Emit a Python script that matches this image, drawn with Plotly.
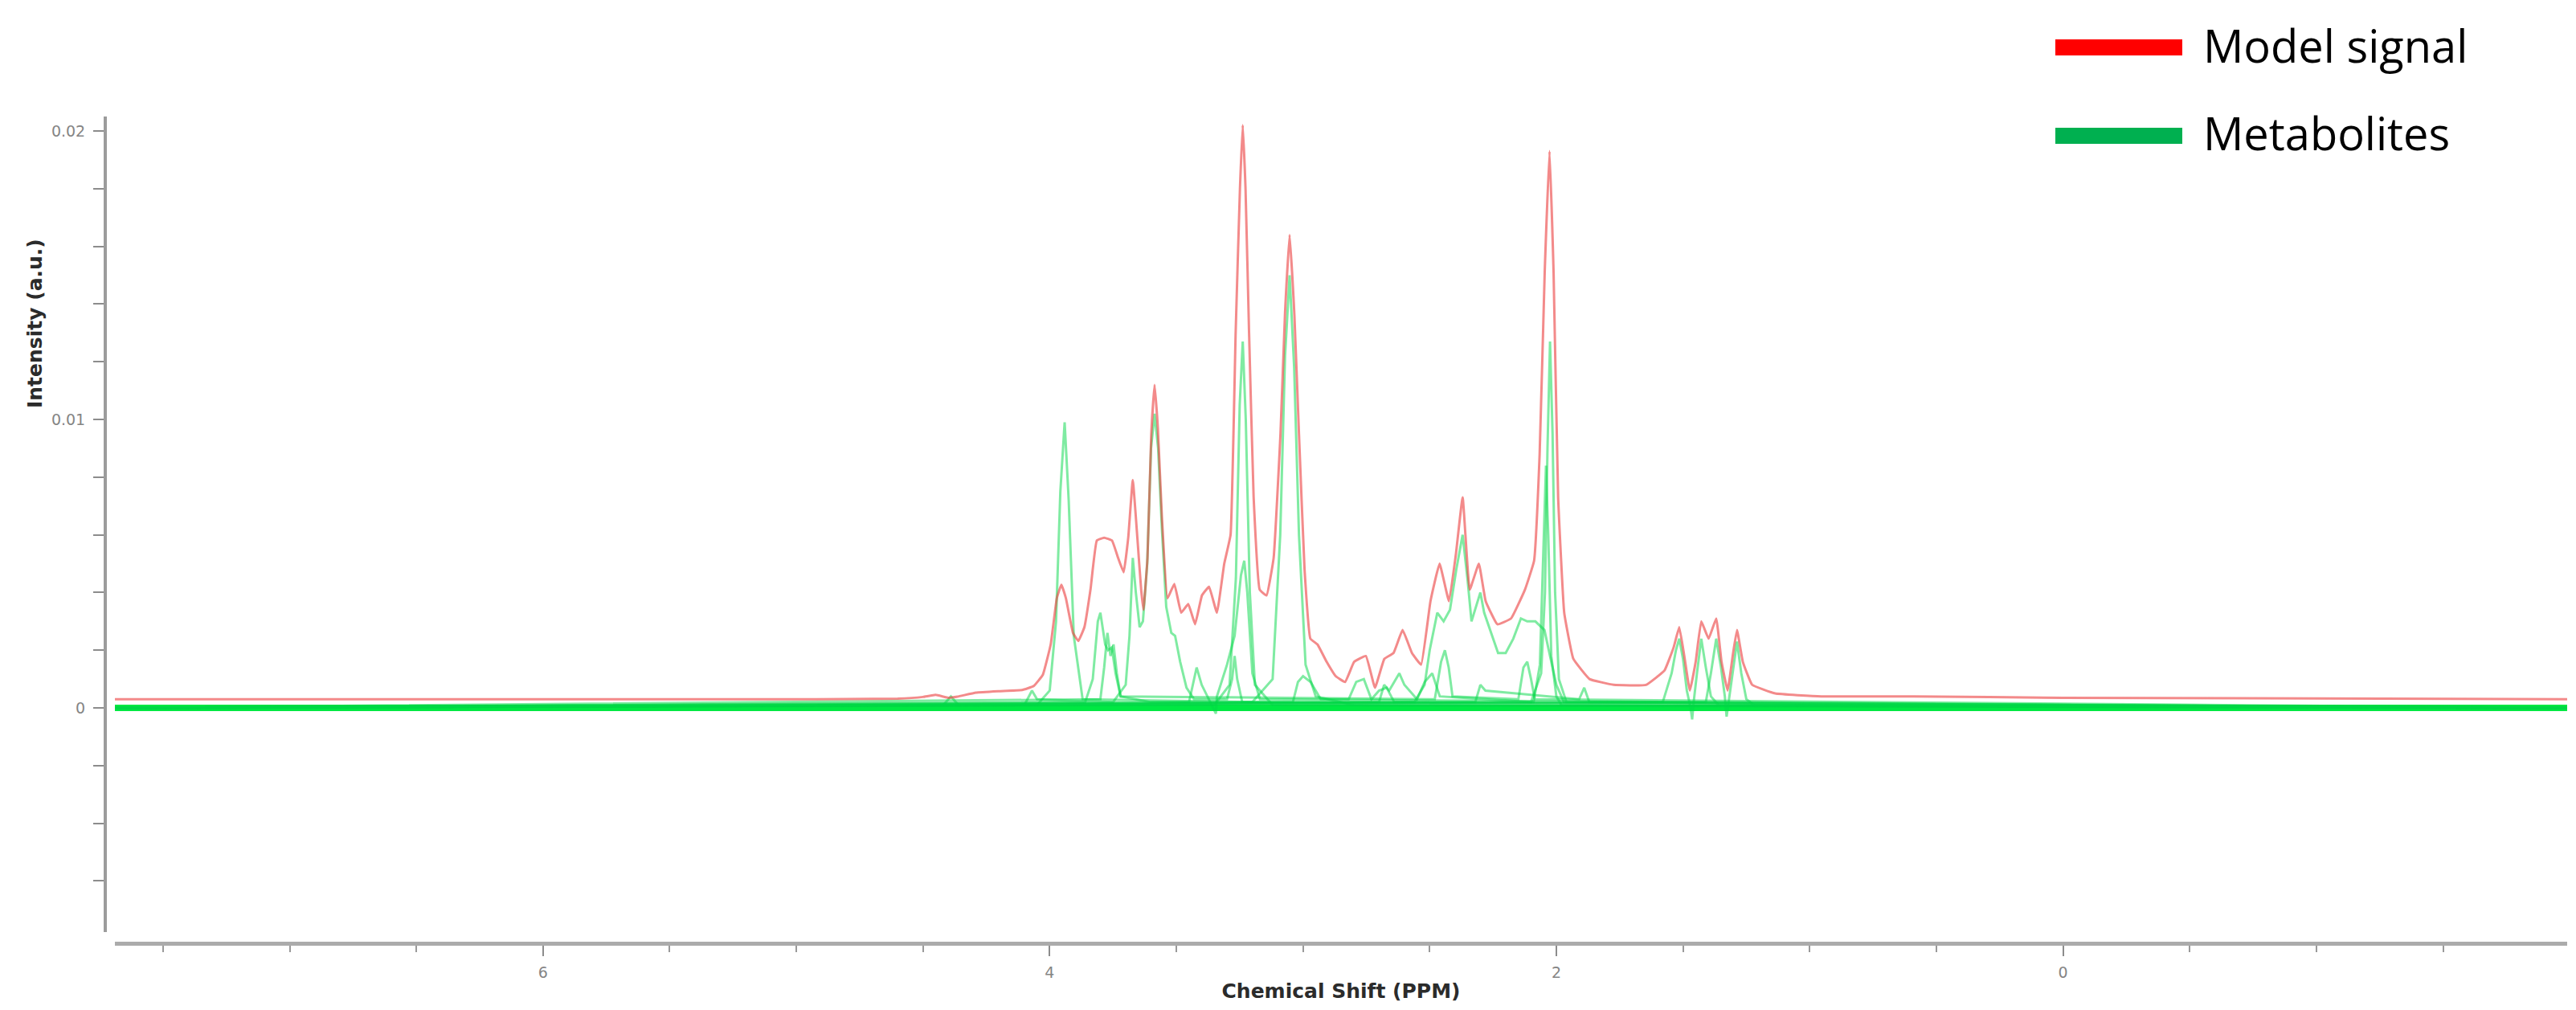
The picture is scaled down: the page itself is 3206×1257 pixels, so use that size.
"""
NMR スペクトル: モデル信号と代謝物成分の重ね描き
"""
import plotly.graph_objects as go

# ---------------------------------------------------------------------------
# データ (ppm, 強度 a.u.)
# ---------------------------------------------------------------------------
X_RANGE = [7.69, -1.99]
Y_RANGE = [-0.00777, 0.0205]

MODEL_PPM = [
    7.69, 6.0, 5.0, 4.60, 4.50, 4.45, 4.40, 4.364, 4.291, 4.200, 4.109, 4.063,
    4.027, 3.996, 3.972, 3.954, 3.936, 3.908, 3.887, 3.863, 3.839, 3.814, 3.785,
    3.754, 3.730, 3.708, 3.690, 3.672, 3.654, 3.639, 3.630, 3.614, 3.599, 3.586,
    3.573, 3.557, 3.535, 3.508, 3.481, 3.453, 3.426, 3.399, 3.371, 3.340, 3.311,
    3.286, 3.266, 3.249, 3.238, 3.227, 3.213, 3.195, 3.171, 3.144, 3.116, 3.089,
    3.071, 3.053, 3.034, 3.016, 2.994, 2.971, 2.943, 2.907, 2.871, 2.834, 2.798,
    2.752, 2.716, 2.679, 2.643, 2.607, 2.570, 2.534, 2.497, 2.461, 2.424, 2.397,
    2.370, 2.342, 2.306, 2.279, 2.233, 2.179, 2.124, 2.088, 2.066, 2.046, 2.027,
    2.011, 1.993, 1.969, 1.933, 1.869, 1.774, 1.646, 1.573, 1.537, 1.515, 1.495,
    1.473, 1.450, 1.428, 1.399, 1.369, 1.348, 1.324, 1.304, 1.287, 1.264, 1.227,
    1.136, 0.954, 0.590, 0.0, -1.99,
]
MODEL_INT = [
    0.0003, 0.0003, 0.0003, 0.00032, 0.00038, 0.00045, 0.00035, 0.00039, 0.00053,
    0.00058, 0.00062, 0.00076, 0.00115, 0.0022, 0.0038, 0.00427, 0.0038, 0.0026,
    0.00232, 0.0028, 0.0041, 0.0058, 0.0059, 0.0058, 0.0052, 0.0047, 0.0059,
    0.0079, 0.0059, 0.0041, 0.0034, 0.0052, 0.0095, 0.0112, 0.0097, 0.0066,
    0.0038, 0.0043, 0.0033, 0.0036, 0.0029, 0.0039, 0.0042, 0.0033, 0.0050,
    0.0060, 0.0130, 0.0180, 0.0202, 0.0180, 0.0130, 0.0073, 0.0041, 0.0039,
    0.0052, 0.0095, 0.0137, 0.0164, 0.0136, 0.0095, 0.0048, 0.0024, 0.0022,
    0.0016, 0.0011, 0.0009, 0.0016, 0.0018, 0.0007, 0.0017, 0.0019, 0.0027,
    0.0019, 0.0015, 0.0037, 0.0050, 0.0037, 0.0053, 0.0073, 0.0041, 0.0050,
    0.0037, 0.0029, 0.0031, 0.0041, 0.0051, 0.0088, 0.0151, 0.0193, 0.0151,
    0.0073, 0.0033, 0.0017, 0.0010, 0.0008, 0.0008, 0.0013, 0.0021, 0.0028,
    0.0018, 0.0006, 0.0016, 0.0030, 0.0024, 0.0031, 0.0016, 0.0006, 0.0018,
    0.0027, 0.0016, 0.0008, 0.0005, 0.0004, 0.0004, 0.00035, 0.0003,
]

# 代謝物成分
CR_PPM = [7.69, 4.05, 4.00, 3.975, 3.958, 3.941, 3.925, 3.905, 3.87, 3.20, 3.12,
          3.09, 3.071, 3.053, 3.035, 3.016, 2.99, 2.95, 2.80, -1.99]
CR_INT = [0.0, 0.0001, 0.0006, 0.0030, 0.0075, 0.0099, 0.0072, 0.0025, 0.0003,
          0.0002, 0.0010, 0.0060, 0.0122, 0.0150, 0.0118, 0.0060, 0.0015, 0.0004,
          0.0001, 0.0]

CHO_PPM = [7.69, 3.35, 3.29, 3.265, 3.25, 3.238, 3.226, 3.21, 3.19, 3.12, -1.99]
CHO_INT = [0.0, 0.0001, 0.0008, 0.0045, 0.0105, 0.0127, 0.0100, 0.0040, 0.0008,
           0.0001, 0.0]

MI_PPM = [7.69, 4.10, 4.07, 4.05, 3.75, 3.70, 3.685, 3.672, 3.66, 3.645, 3.632,
          3.615, 3.60, 3.586, 3.572, 3.557, 3.540, 3.52, 3.505, 3.485, 3.46, 3.43,
          3.30, 3.28, 3.27, 3.26, 3.24, -1.99]
MI_INT = [0.0, 0.0001, 0.0006, 0.0003, 0.0002, 0.0008, 0.0025, 0.0052, 0.0040,
          0.0028, 0.0030, 0.0050, 0.0090, 0.0102, 0.0090, 0.0062, 0.0035, 0.0026,
          0.0025, 0.0016, 0.0007, 0.0003, 0.0003, 0.0010, 0.0018, 0.0010, 0.0002,
          0.0]

TAU_PPM = [7.69, 3.45, 3.42, 3.40, 3.344, 3.34, 3.30, 3.27, 3.245, 3.232, 3.22,
           3.20, 3.17, -1.99]
TAU_INT = [0.0, 0.0002, 0.0014, 0.0008, -0.0002, 0.0004, 0.0015, 0.0025, 0.0046,
           0.0051, 0.0040, 0.0012, 0.0003, 0.0]

GLU_PPM = [7.69, 3.86, 3.83, 3.81, 3.80, 3.785, 3.781, 3.77, 3.755, 3.74, 3.72,
           3.60, 2.56, 2.52, 2.50, 2.47, 2.445, 2.42, 2.395, 2.37, 2.35, 2.335,
           2.32, 2.30, 2.285, 2.265, 2.23, 2.20, 2.17, 2.14, 2.115, 2.083, 2.047,
           2.03, 2.00, 1.97, -1.99]
GLU_INT = [0.0, 0.0002, 0.0010, 0.0030, 0.0033, 0.0025, 0.0022, 0.0020, 0.0021,
           0.0012, 0.0004, 0.0002, 0.0002, 0.0008, 0.0020, 0.0033, 0.0030, 0.0034,
           0.0048, 0.0060, 0.0044, 0.0030, 0.0034, 0.0040, 0.0033, 0.0028, 0.0019,
           0.0019, 0.0024, 0.0031, 0.0030, 0.0030, 0.0027, 0.0020, 0.0008, 0.0002,
           0.0]

GLN_PPM = [7.69, 3.80, 3.785, 3.772, 3.76, 3.748, 3.735, 3.72, 2.48, 2.455,
           2.44, 2.425, 2.41, 2.15, 2.13, 2.115, 2.10, 2.085, -1.99]
GLN_INT = [0.0, 0.0003, 0.0014, 0.0026, 0.0018, 0.0022, 0.0012, 0.0004, 0.0003,
           0.0016, 0.0020, 0.0014, 0.0004, 0.0003, 0.0014, 0.0016, 0.0010, 0.0003,
           0.0]

NAA_PPM = [7.69, 4.42, 4.39, 4.36, 2.70, 2.68, 2.66, 2.62, 2.60, 2.55, 2.52,
           2.49, 2.46, 2.10, 2.06, 2.045, 2.035, 2.025, 2.015, 2.005, 1.99, 1.96,
           -1.99]
NAA_INT = [0.0, 0.0001, 0.0004, 0.0001, 0.0002, 0.0008, 0.0006, 0.0012, 0.0008,
           0.0003, 0.0009, 0.0012, 0.0004, 0.0002, 0.0012, 0.0040, 0.0090, 0.0127,
           0.0095, 0.0040, 0.0010, 0.0002, 0.0]

NAAG_PPM = [7.69, 2.09, 2.065, 2.05, 2.041, 2.032, 2.02, 2.00, 1.98, -1.99]
NAAG_INT = [0.0, 0.0002, 0.0015, 0.0060, 0.0084, 0.0060, 0.0018, 0.0004, 0.0001,
            0.0]

GABA_PPM = [7.69, 3.04, 3.02, 3.00, 2.97, 2.93, 2.82, 2.79, 2.76, 2.73, 2.70,
            2.67, 2.64, 2.32, 2.30, 2.28, 1.91, 1.89, 1.87, -1.99]
GABA_INT = [0.0, 0.0002, 0.0009, 0.0011, 0.0009, 0.0003, 0.0003, 0.0009, 0.0010,
            0.0003, 0.0006, 0.0007, 0.0002, 0.0002, 0.0008, 0.0006, 0.0003, 0.0007,
            0.0002, 0.0]

ALA_PPM = [7.69, 1.58, 1.545, 1.528, 1.515, 1.50, 1.485, 1.47, 1.464, 1.458,
           1.445, 1.428, 1.41, 1.39, 1.36, -1.99]
ALA_INT = [0.0, 0.0002, 0.0012, 0.0020, 0.0024, 0.0017, 0.0006, 0.0, -0.0004,
           0.0002, 0.0012, 0.0024, 0.0014, 0.0004, 0.0001, 0.0]

LAC_PPM = [7.69, 1.41, 1.39, 1.369, 1.35, 1.335, 1.328, 1.32, 1.305, 1.287,
           1.27, 1.25, 1.22, -1.99]
LAC_INT = [0.0, 0.0002, 0.0012, 0.0024, 0.0014, 0.0004, -0.0003, 0.0002, 0.0012,
           0.0023, 0.0012, 0.0003, 0.0001, 0.0]

BASELINE_PPM = [7.69, -1.99]
BASELINE_INT = [0.0, 0.0]

METABOLITES = [
    ("Cr", CR_PPM, CR_INT),
    ("Cho", CHO_PPM, CHO_INT),
    ("mI", MI_PPM, MI_INT),
    ("Tau", TAU_PPM, TAU_INT),
    ("Glu", GLU_PPM, GLU_INT),
    ("Gln", GLN_PPM, GLN_INT),
    ("NAA", NAA_PPM, NAA_INT),
    ("NAAG", NAAG_PPM, NAAG_INT),
    ("GABA", GABA_PPM, GABA_INT),
    ("Ala", ALA_PPM, ALA_INT),
    ("Lac", LAC_PPM, LAC_INT),
]

LEGEND_ITEMS = [("Model signal", "#ff0000"), ("Metabolites", "#00b050")]

# ---------------------------------------------------------------------------
# レイアウト寸法 (px)
# ---------------------------------------------------------------------------
W, H = 3206, 1257
ML, MR, MT, MB = 123, 19, 137, 91


def px(x):
    return (x - ML) / (W - ML - MR)


def py(y):
    return (H - MB - y) / (H - MT - MB)


GREEN = "rgba(0,215,70,0.5)"
RED = "rgba(235,60,60,0.6)"
AXIS_GREY = "#9c9c9c"
TICK_FONT = dict(family="DejaVu Sans", size=19, color="#858585")
TITLE_FONT = dict(family="DejaVu Sans", size=25, color="#2b2b2b", weight="bold")

fig = go.Figure()

fig.add_trace(go.Scatter(
    x=BASELINE_PPM, y=BASELINE_INT, mode="lines", name="baseline",
    line=dict(color="rgb(0,232,66)", width=8), showlegend=False,
))
for name, xs, ys in METABOLITES:
    fig.add_trace(go.Scatter(
        x=xs, y=ys, mode="lines", name=name,
        line=dict(color=GREEN, width=3),
        showlegend=False,
    ))
fig.add_trace(go.Scatter(
    x=MODEL_PPM, y=MODEL_INT, mode="lines", name="Model signal",
    line=dict(color=RED, width=3, shape="spline", smoothing=0.3),
    showlegend=False,
))

# 凡例 (太い線 + テキスト)
legend_rows = [(51, 48), (161, 157)]
for (label, color), (bar_y, text_y) in zip(LEGEND_ITEMS, legend_rows):
    fig.add_shape(
        type="line", xref="paper", yref="paper",
        x0=px(2550), x1=px(2708), y0=py(bar_y), y1=py(bar_y),
        line=dict(color=color, width=20),
    )
    fig.add_annotation(
        text=label, xref="paper", yref="paper", x=px(2732), y=py(text_y),
        xanchor="left", yanchor="middle", showarrow=False,
        font=dict(family="Open Sans", size=56, color="#000000"),
    )

# 縦軸タイトル
fig.add_annotation(
    text="Intensity (a.u.)", xref="paper", yref="paper",
    x=px(35), y=py(395), xanchor="center", yanchor="middle",
    textangle=-90, showarrow=False, font=TITLE_FONT,
)

fig.update_layout(
    width=W, height=H,
    margin=dict(l=ML, r=MR, t=MT, b=MB),
    paper_bgcolor="white", plot_bgcolor="white",
    showlegend=False,
    xaxis=dict(
        range=X_RANGE, domain=[px(135), 1], anchor="free", position=0,
        showline=True, linecolor="#ababab", linewidth=5,
        showgrid=False, zeroline=False,
        tick0=0, dtick=2, ticks="outside", ticklen=13, tickwidth=2,
        tickcolor="#8c8c8c", tickfont=TICK_FONT, ticklabelstandoff=4,
        minor=dict(tick0=0, dtick=0.5, ticks="outside", ticklen=8,
                   tickwidth=2, tickcolor="#9a9a9a", showgrid=False),
        title=dict(text="Chemical Shift (PPM)", font=TITLE_FONT, standoff=4),
    ),
    yaxis=dict(
        range=Y_RANGE, domain=[py(1152), 1], anchor="free", position=0,
        showline=True, linecolor=AXIS_GREY, linewidth=4,
        showgrid=False, zeroline=False,
        tick0=0, dtick=0.01, ticks="outside", ticklen=13, tickwidth=2,
        tickcolor="#8c8c8c", tickfont=TICK_FONT, ticklabelstandoff=6,
        minor=dict(tick0=0, dtick=0.002, ticks="outside", ticklen=13,
                   tickwidth=2, tickcolor="#8c8c8c", showgrid=False),
    ),
)

fig.write_html("out.html")
